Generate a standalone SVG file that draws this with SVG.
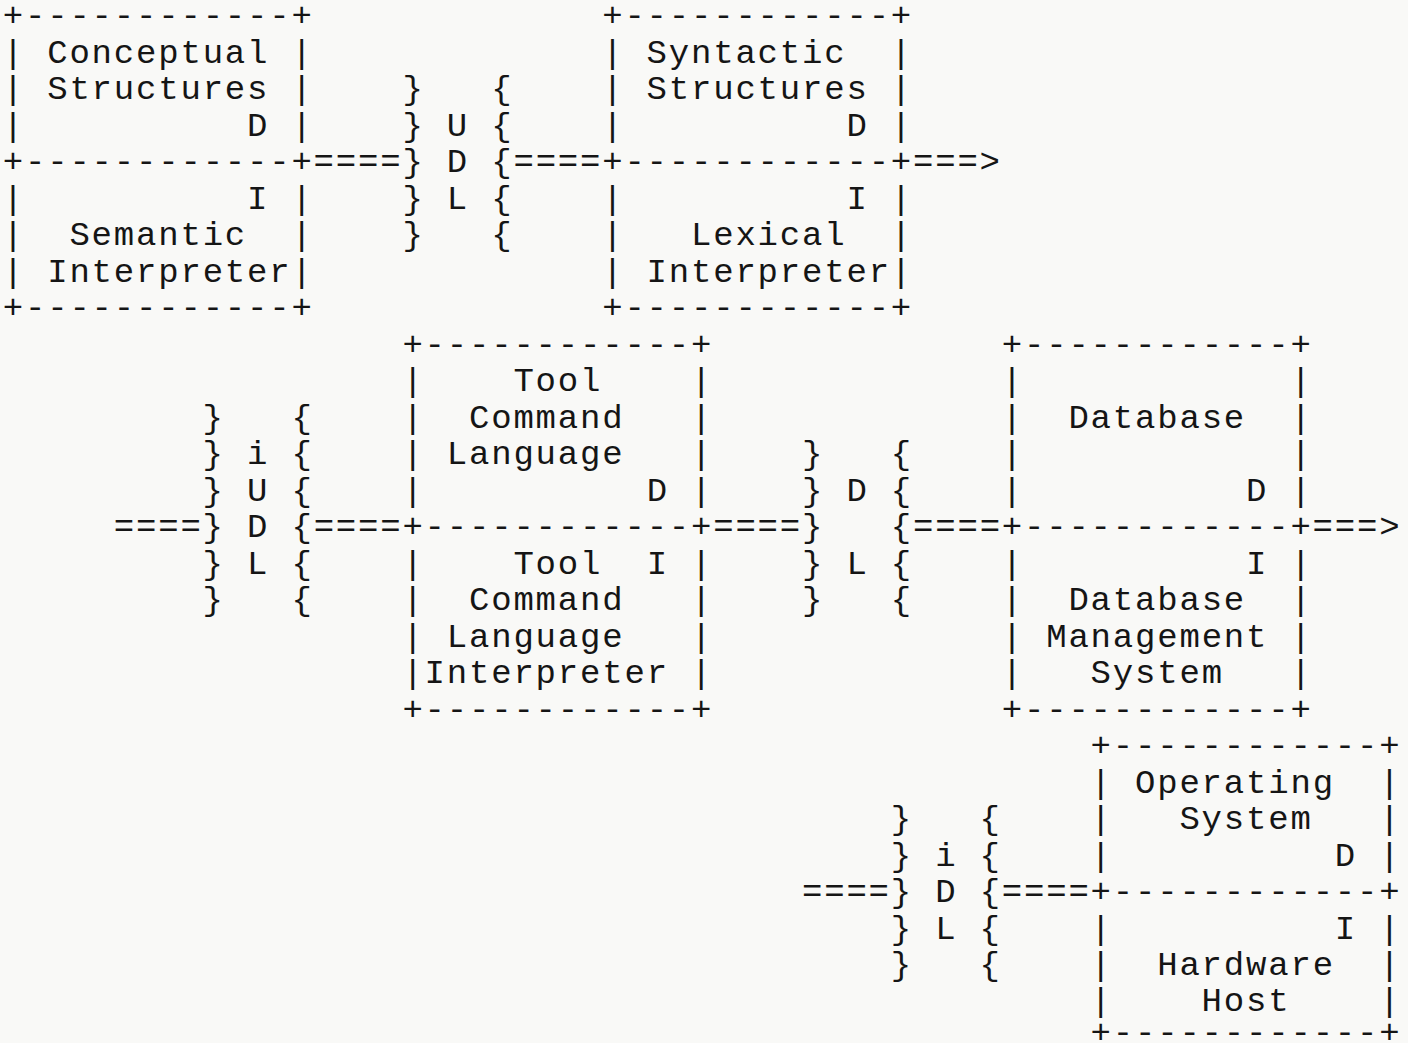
<svg xmlns="http://www.w3.org/2000/svg" width="1408" height="1043" viewBox="0 0 1408 1043" xml:space="preserve">
<style>
text { font-family: "Liberation Mono", "DejaVu Sans Mono", monospace; font-size: 34px; letter-spacing: 1.8px; fill: #151515; white-space: pre; }
</style>
<rect x="0" y="0" width="1408" height="1043" fill="#f9f9f7"/>

<g id="node-conceptual-semantic">
<text x="2.8" y="26">+------------+</text>
<text x="2.8" y="62.5">| Conceptual |</text>
<text x="2.8" y="99">| Structures |</text>
<text x="2.8" y="135.5">|          D |</text>
<text x="2.8" y="172">+------------+</text>
<text x="2.8" y="208.5">|          I |</text>
<text x="2.8" y="245">|  Semantic  |</text>
<text x="2.8" y="281.5">| Interpreter|</text>
<text x="2.8" y="318">+------------+</text>
</g>

<g id="node-syntactic-lexical">
<text x="602.2" y="26">+------------+</text>
<text x="602.2" y="62.5">| Syntactic  |</text>
<text x="602.2" y="99">| Structures |</text>
<text x="602.2" y="135.5">|          D |</text>
<text x="602.2" y="172">+------------+</text>
<text x="602.2" y="208.5">|          I |</text>
<text x="602.2" y="245">|   Lexical  |</text>
<text x="602.2" y="281.5">| Interpreter|</text>
<text x="602.2" y="318">+------------+</text>
</g>

<g id="node-tool-command-language">
<text x="402.4" y="354.5">+------------+</text>
<text x="402.4" y="391">|    Tool    |</text>
<text x="402.4" y="427.5">|  Command   |</text>
<text x="402.4" y="464">| Language   |</text>
<text x="402.4" y="500.5">|          D |</text>
<text x="402.4" y="537">+------------+</text>
<text x="402.4" y="573.5">|    Tool  I |</text>
<text x="402.4" y="610">|  Command   |</text>
<text x="402.4" y="646.5">| Language   |</text>
<text x="402.4" y="683">|Interpreter |</text>
<text x="402.4" y="719.5">+------------+</text>
</g>

<g id="node-database">
<text x="1001.8" y="354.5">+------------+</text>
<text x="1001.8" y="391">|            |</text>
<text x="1001.8" y="427.5">|  Database  |</text>
<text x="1001.8" y="464">|            |</text>
<text x="1001.8" y="500.5">|          D |</text>
<text x="1001.8" y="537">+------------+</text>
<text x="1001.8" y="573.5">|          I |</text>
<text x="1001.8" y="610">|  Database  |</text>
<text x="1001.8" y="646.5">| Management |</text>
<text x="1001.8" y="683">|   System   |</text>
<text x="1001.8" y="719.5">+------------+</text>
</g>

<g id="node-operating-system">
<text x="1090.6" y="756">+------------+</text>
<text x="1090.6" y="792.5">| Operating  |</text>
<text x="1090.6" y="829">|   System   |</text>
<text x="1090.6" y="865.5">|          D |</text>
<text x="1090.6" y="902">+------------+</text>
<text x="1090.6" y="938.5">|          I |</text>
<text x="1090.6" y="975">|  Hardware  |</text>
<text x="1090.6" y="1011">|    Host    |</text>
<text x="1090.6" y="1043">+------------+</text>
</g>

<g id="connectors">
<g id="interface-udl">
<text x="402.4" y="99">}   {</text>
<text x="402.4" y="135.5">} U {</text>
<text x="313.6" y="172">====} D {====</text>
<text x="402.4" y="208.5">} L {</text>
<text x="402.4" y="245">}   {</text>
</g>
<g id="arrow-syntactic">
<text x="913" y="172">===&gt;</text>
</g>
<g id="interface-iudl">
<text x="202.6" y="427.5">}   {</text>
<text x="202.6" y="464">} i {</text>
<text x="202.6" y="500.5">} U {</text>
<text x="113.8" y="537">====} D {====</text>
<text x="202.6" y="573.5">} L {</text>
<text x="202.6" y="610">}   {</text>
</g>
<g id="interface-dl">
<text x="802" y="464">}   {</text>
<text x="802" y="500.5">} D {</text>
<text x="713.2" y="537">====}   {====</text>
<text x="802" y="573.5">} L {</text>
<text x="802" y="610">}   {</text>
</g>
<g id="arrow-database">
<text x="1312.6" y="537">===&gt;</text>
</g>
<g id="interface-idl">
<text x="890.8" y="829">}   {</text>
<text x="890.8" y="865.5">} i {</text>
<text x="802" y="902">====} D {====</text>
<text x="890.8" y="938.5">} L {</text>
<text x="890.8" y="975">}   {</text>
</g>
</g>
</svg>
